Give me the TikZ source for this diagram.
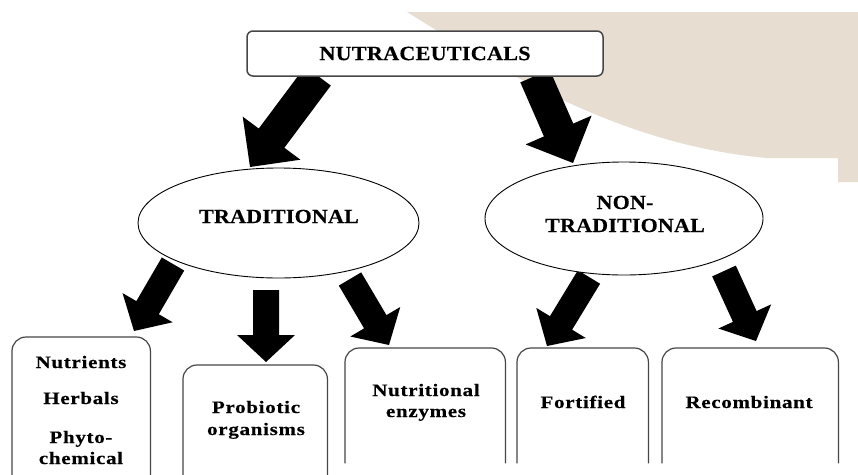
\documentclass[tikz,border=0pt]{standalone}
\usepackage{fontspec}
\setmainfont{Liberation Serif}
\newfontfamily\spacedfont[FakeStretch=1.2, LetterSpace=4, FakeBold=0.4]{Liberation Serif Bold}
\newfontfamily\topfont[FakeStretch=1.1, LetterSpace=1, FakeBold=0.3]{Liberation Serif Bold}
\usetikzlibrary{shapes.geometric,calc}
\definecolor{beige}{RGB}{231,221,208}
\definecolor{framegray}{RGB}{70,70,70}
% #1 start, #2 tip, #3 shaft half width, #4 head half width, #5 head length
\newcommand\blockarrow[5]{%
  \coordinate (ba-h) at ($(#2)!#5!(#1)$);
  \fill[black] ($(#1)!#3!90:(#2)$) -- ($(ba-h)!#3!90:(#2)$) -- ($(ba-h)!#4!90:(#2)$) -- (#2)
     -- ($(ba-h)!#4!-90:(#2)$) -- ($(ba-h)!#3!-90:(#2)$) -- ($(#1)!#3!-90:(#2)$) -- cycle;
}
\begin{document}
\begin{tikzpicture}[x=1pt,y=-1pt,
  toplbl/.style={font=\topfont\fontsize{20}{24}\selectfont, inner sep=0pt, anchor=base},
  lbl/.style={font=\spacedfont\fontsize{17.5}{21}\selectfont, inner sep=0pt, anchor=base},
  topbox/.style={draw=framegray, line width=1.5pt, rounded corners=6pt, fill=white, inner sep=0pt,
     font=\topfont\fontsize{20.2}{24}\selectfont},
  oval/.style={ellipse, draw=black, line width=0.9pt, fill=white, inner sep=0pt},
  boxarea/.style={inner sep=0pt, anchor=north west},
  frame/.style={draw=framegray, line width=1.2pt, rounded corners=14pt}]
\useasboundingbox (0,0) rectangle (858,474);
\clip (0,0) rectangle (858,474);
\fill[white] (0,0) rectangle (858,474);
% beige background shape
\fill[beige] (407,12) -- (858,12) -- (858,182) -- (838,182) -- (838,158) -- (767,158)
   .. controls (620,145) and (500,70) .. (407,12) -- cycle;

% arrow end points
\coordinate (a1s) at (318,76);  \coordinate (a1t) at (250,167);
\coordinate (a2s) at (535,76);  \coordinate (a2t) at (573,163);
\coordinate (a3s) at (173,264); \coordinate (a3t) at (134,331);
\coordinate (a4s) at (266,290); \coordinate (a4t) at (266,362);
\coordinate (a5s) at (350,279); \coordinate (a5t) at (389,345);
\coordinate (a6s) at (589,277); \coordinate (a6t) at (547,346);
\coordinate (a7s) at (724,271); \coordinate (a7t) at (756,341);

\blockarrow{a1s}{a1t}{16pt}{36pt}{36pt}
\blockarrow{a2s}{a2t}{16pt}{36pt}{36pt}
\blockarrow{a3s}{a3t}{13pt}{29pt}{27pt}
\blockarrow{a4s}{a4t}{13pt}{29pt}{27pt}
\blockarrow{a5s}{a5t}{13pt}{29pt}{27pt}
\blockarrow{a6s}{a6t}{13pt}{29pt}{27pt}
\blockarrow{a7s}{a7t}{13pt}{29pt}{27pt}

% top box
\node[topbox, minimum width=356pt, minimum height=45pt] (nut) at (425,53.5) {NUTRACEUTICALS};

% ellipses
\node[oval, minimum width=281pt, minimum height=110pt] (trad) at (278.5,223) {};
\node[toplbl] (tradt) at (279,223) {TRADITIONAL};
\node[oval, minimum width=278pt, minimum height=113pt] (nontrad) at (624,218.5) {};
\node[toplbl] (nontrada) at (625,209) {NON-};
\node[toplbl] (nontradb) at (625,232) {TRADITIONAL};

% bottom boxes
\node[boxarea, minimum width=138pt, minimum height=150pt] (b1) at (12,337) {};
\node[boxarea, minimum width=144pt, minimum height=120pt] (b2) at (183,365) {};
\node[boxarea, minimum width=160pt, minimum height=115pt] (b3) at (345,348) {};
\node[boxarea, minimum width=131pt, minimum height=115pt] (b4) at (517,348) {};
\node[boxarea, minimum width=176pt, minimum height=115pt] (b5) at (662,348) {};
\foreach \b in {b1,b2,b3,b4,b5}
  \draw[frame] (\b.south west) -- (\b.north west) -- (\b.north east) -- (\b.south east);

\node[lbl] (b1a) at (81,368) {Nutrients};
\node[lbl] (b1b) at (81,404) {Herbals};
\node[lbl] (b1c) at (81,443) {Phyto-};
\node[lbl] (b1d) at (81,464) {chemical};
\node[lbl] (b2a) at (256,413) {Probiotic};
\node[lbl] (b2b) at (256,435) {organisms};
\node[lbl] (b3a) at (426,396) {Nutritional};
\node[lbl] (b3b) at (426,417) {enzymes};
\node[lbl] (b4a) at (583,408) {Fortified};
\node[lbl] (b5a) at (749,408) {Recombinant};
\end{tikzpicture}
\end{document}
